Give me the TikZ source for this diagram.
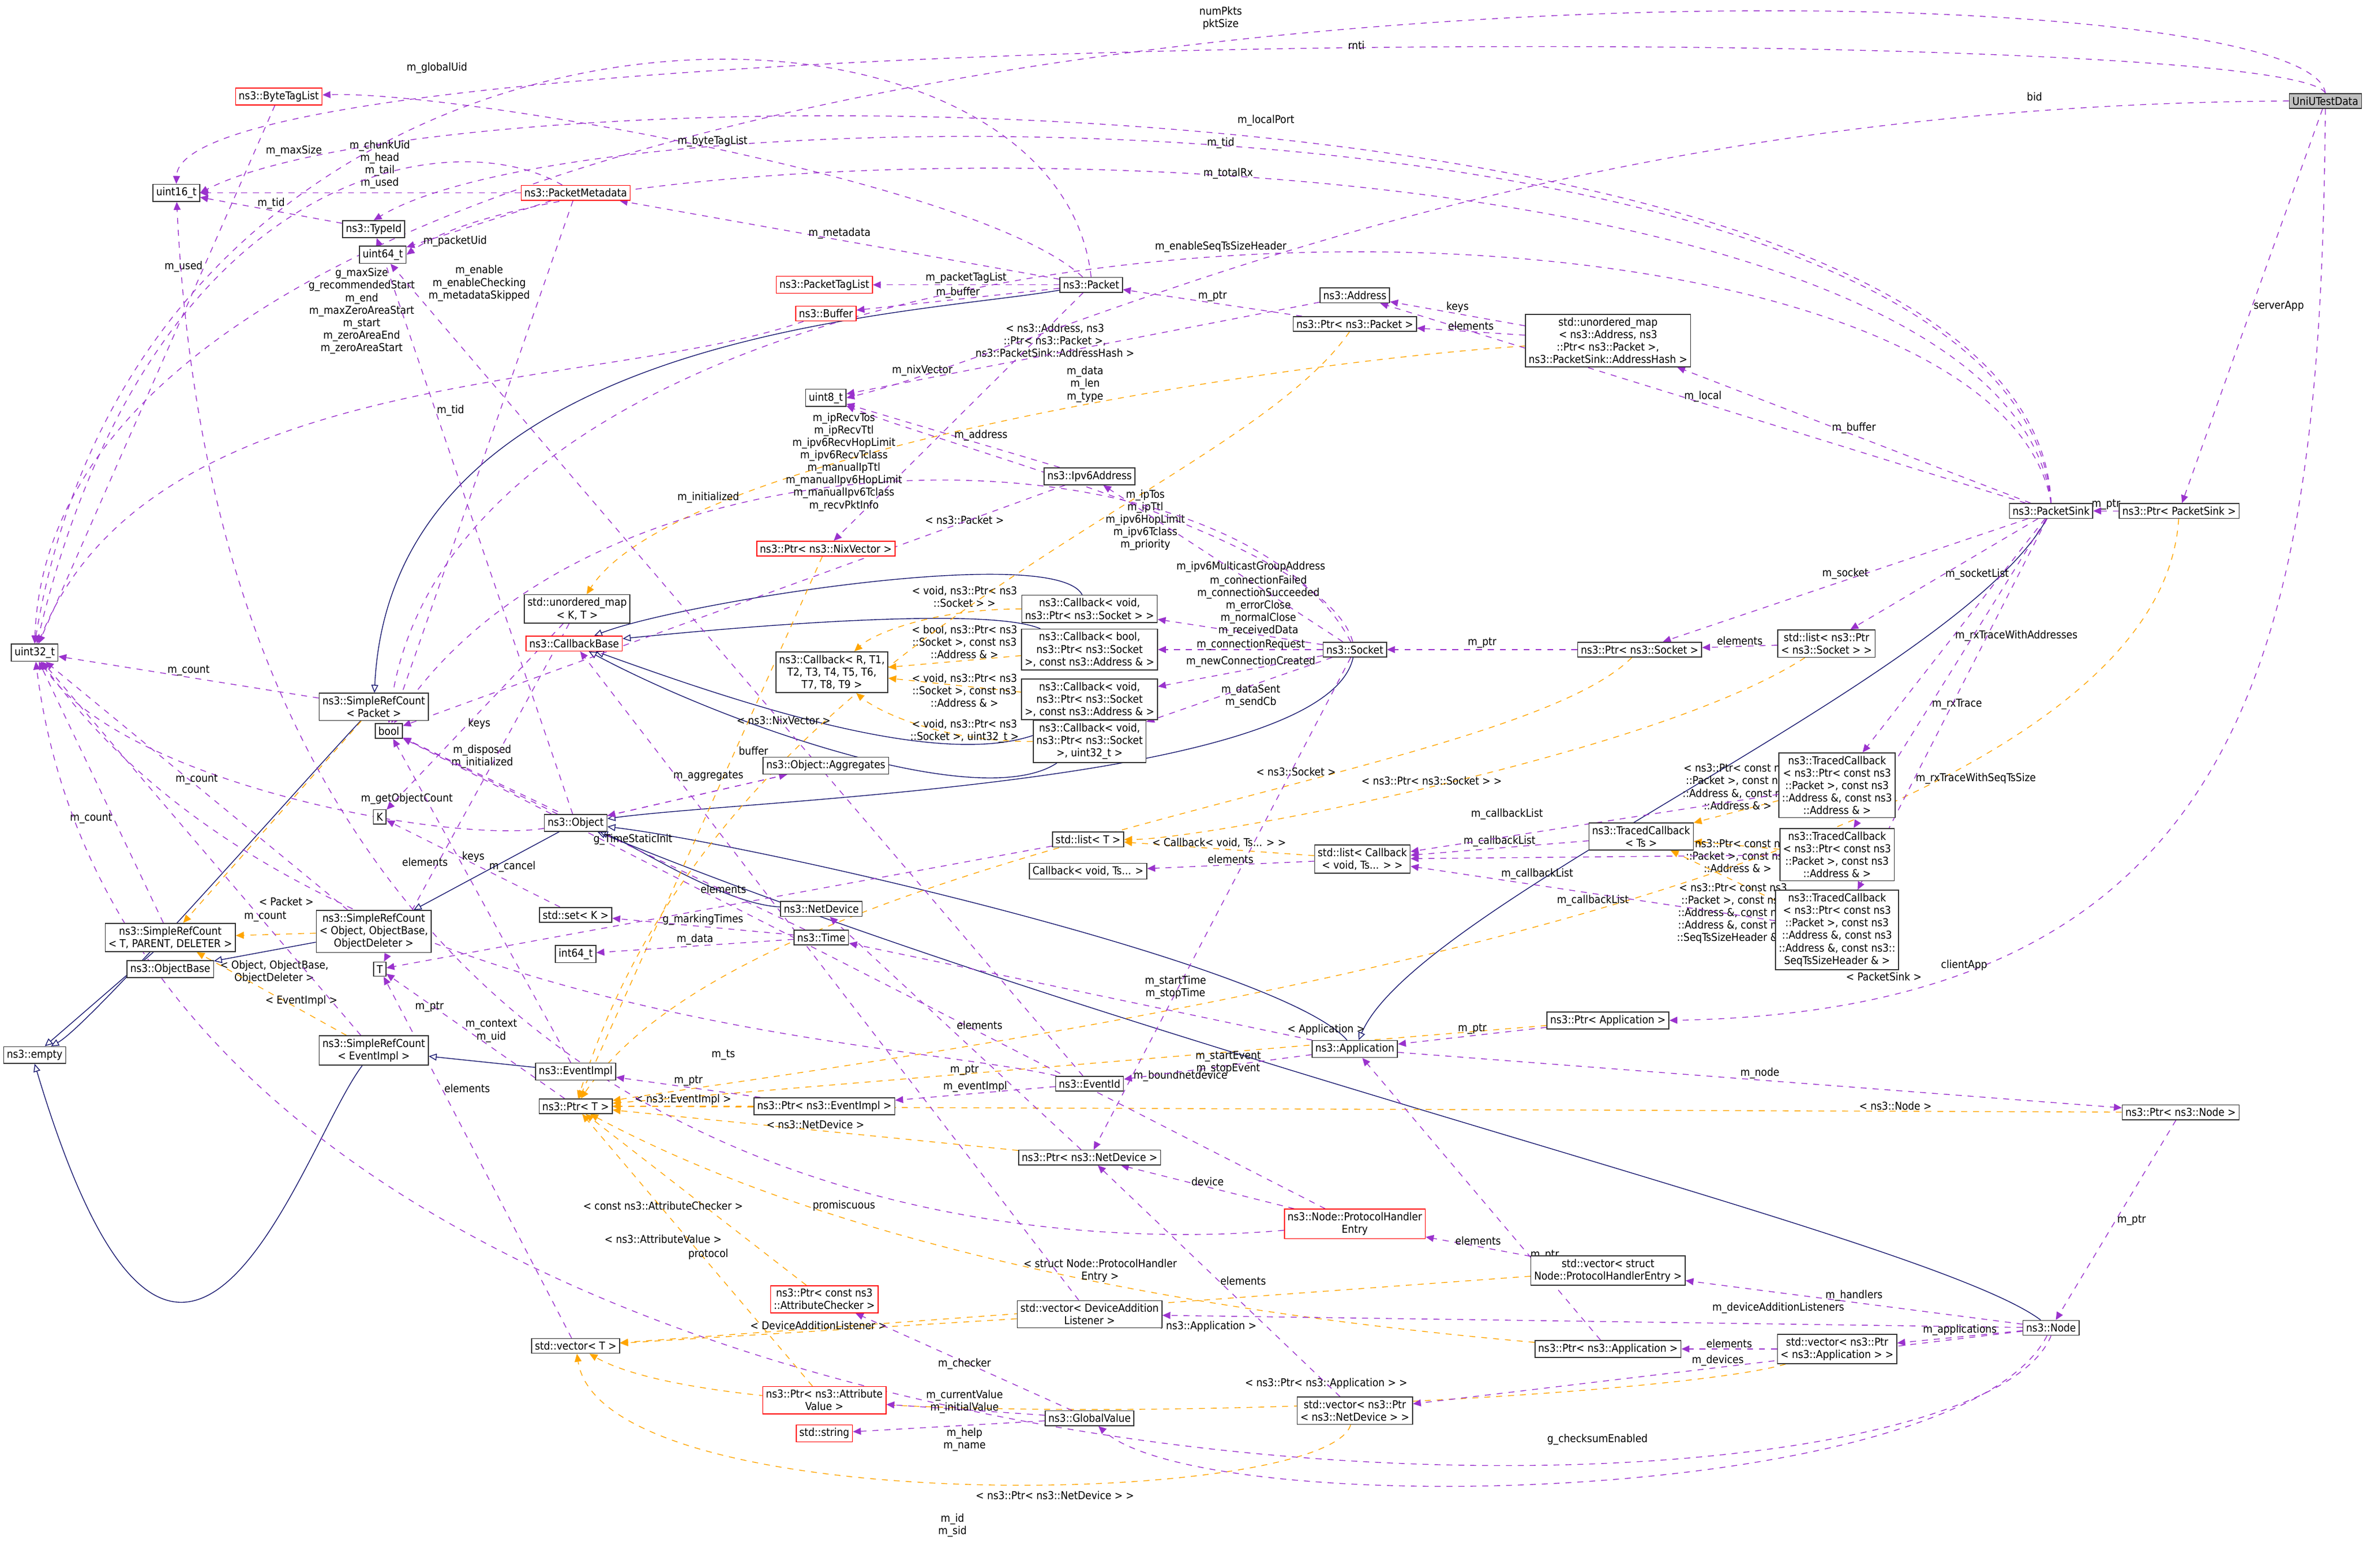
\documentclass[tikz,border=0pt]{standalone}
\usepackage{fontspec}
\setmainfont{DejaVu Sans Condensed}
\usetikzlibrary{arrows.meta}
\definecolor{pu}{HTML}{9A32CD}
\definecolor{or}{HTML}{FFA500}
\definecolor{mb}{HTML}{191970}
\pgfdeclarelayer{bg}
\pgfsetlayers{bg,main}
\tikzset{
  fnt/.style={font=\fontsize{5.5}{6.3}\selectfont},
  box/.style={fnt,draw=black!80,fill=white,inner sep=1.6pt,align=center,line width=0.45pt},
  rbox/.style={box,draw=red},
  use/.style={dashed,pu,line width=0.4pt,-{Triangle[length=4pt,width=3.5pt]}},
  tmpl/.style={dashed,or,line width=0.4pt,-{Triangle[length=4pt,width=3.5pt]}},
  inh/.style={mb,line width=0.4pt,-{Triangle[open,length=4pt,width=3.5pt]}},
  lbl/.style={fnt,text=black,align=center,inner sep=0.5pt}
}
\begin{document}
\begin{tikzpicture}[x=0.0267cm,y=-0.0267cm]
\useasboundingbox (0,0) rectangle (1568,1040);
% nodes
\node[box,fill=black!25] (uni) at (1543,67) {UniUTestData};
\node[box] (psink) at (1361,339) {ns3::PacketSink};
\node[box] (ppsink) at (1446,339) {ns3::Ptr< PacketSink >};
\node[box] (packet) at (724,189) {ns3::Packet};
\node[rbox] (btl) at (185,64) {ns3::ByteTagList};
\node[box] (u16) at (117,128) {uint16\_t};
\node[rbox] (pmeta) at (382,128) {ns3::PacketMetadata};
\node[box] (typeid) at (248,152) {ns3::TypeId};
\node[box] (u64) at (254,169) {uint64\_t};
\node[rbox] (ptl) at (547,189) {ns3::PacketTagList};
\node[rbox] (buffer) at (548,208) {ns3::Buffer};
\node[box] (addr) at (899,196) {ns3::Address};
\node[box] (ppacket) at (899,215) {ns3::Ptr< ns3::Packet >};
\node[box] (umap) at (1067,226) {std::unordered\_map\\< ns3::Address, ns3\\::Ptr< ns3::Packet >,\\ ns3::PacketSink::AddressHash >};
\node[box] (u8) at (548,264) {uint8\_t};
\node[box] (ipv6) at (723,316) {ns3::Ipv6Address};
\node[rbox] (pnix) at (548,364) {ns3::Ptr< ns3::NixVector >};
\node[box] (umapkt) at (383,404) {std::unordered\_map\\< K, T >};
\node[rbox] (cbb) at (381,427) {ns3::CallbackBase};
\node[box] (cb1) at (723,404) {ns3::Callback< void,\\ ns3::Ptr< ns3::Socket > >};
\node[box] (cb2) at (723,431) {ns3::Callback< bool,\\ ns3::Ptr< ns3::Socket\\ >, const ns3::Address \& >};
\node[box] (cbR) at (552,446) {ns3::Callback< R, T1,\\ T2, T3, T4, T5, T6,\\ T7, T8, T9 >};
\node[box] (cb3) at (723,464) {ns3::Callback< void,\\ ns3::Ptr< ns3::Socket\\ >, const ns3::Address \& >};
\node[box] (cb4) at (723,492) {ns3::Callback< void,\\ ns3::Ptr< ns3::Socket\\ >, uint32\_t >};
\node[box] (socket) at (899,431) {ns3::Socket};
\node[box] (psock) at (1088,431) {ns3::Ptr< ns3::Socket >};
\node[box] (lsock) at (1212,427) {std::list< ns3::Ptr\\< ns3::Socket > >};
\node[box] (bool) at (258,485) {bool};
\node[box] (aggr) at (548,508) {ns3::Object::Aggregates};
\node[box] (srcp) at (248,469) {ns3::SimpleRefCount\\< Packet >};
\node[box] (u32) at (23,433) {uint32\_t};
\node[box] (object) at (382,546) {ns3::Object};
\node[box] (K) at (252,542) {K};
\node[box] (listT) at (722,557) {std::list< T >};
\node[box] (cbv) at (722,578) {Callback< void, Ts... >};
\node[box] (lcb) at (904,570) {std::list< Callback\\< void, Ts... > >};
\node[box] (tcts) at (1089,555) {ns3::TracedCallback\\< Ts >};
\node[box] (tc1) at (1219,521) {ns3::TracedCallback\\< ns3::Ptr< const ns3\\::Packet >, const ns3\\::Address \&, const ns3\\::Address \& >};
\node[box] (tc2) at (1219,567) {ns3::TracedCallback\\< ns3::Ptr< const ns3\\::Packet >, const ns3\\::Address \& >};
\node[box] (tc3) at (1219,617) {ns3::TracedCallback\\< ns3::Ptr< const ns3\\::Packet >, const ns3\\::Address \&, const ns3\\::Address \&, const ns3::\\SeqTsSizeHeader \& >};
\node[box] (setK) at (382,607) {std::set< K >};
\node[box] (i64) at (382,633) {int64\_t};
\node[box] (netdev) at (545,603) {ns3::NetDevice};
\node[box] (time) at (545,622) {ns3::Time};
\node[box] (srcobj) at (248,618) {ns3::SimpleRefCount\\< Object, ObjectBase,\\ ObjectDeleter >};
\node[box] (srctpl) at (113,622) {ns3::SimpleRefCount\\< T, PARENT, DELETER >};
\node[box] (objbase) at (113,643) {ns3::ObjectBase};
\node[box] (T) at (252,643) {T};
\node[box] (empty) at (23,700) {ns3::empty};
\node[box] (srcev) at (248,697) {ns3::SimpleRefCount\\< EventImpl >};
\node[box] (evimpl) at (382,711) {ns3::EventImpl};
\node[box] (ptrT) at (382,734) {ns3::Ptr< T >};
\node[box] (pev) at (547,734) {ns3::Ptr< ns3::EventImpl >};
\node[box] (eventid) at (723,719) {ns3::EventId};
\node[box] (pnd) at (723,768) {ns3::Ptr< ns3::NetDevice >};
\node[box] (app) at (899,696) {ns3::Application};
\node[box] (papp) at (1067,677) {ns3::Ptr< Application >};
\node[box] (pnode) at (1447,738) {ns3::Ptr< ns3::Node >};
\node[rbox] (phe) at (899,812) {ns3::Node::ProtocolHandler\\Entry};
\node[box] (vphe) at (1067,843) {std::vector< struct\\ Node::ProtocolHandlerEntry >};
\node[box] (node) at (1361,881) {ns3::Node};
\node[box] (vdal) at (723,872) {std::vector< DeviceAddition\\Listener >};
\node[rbox] (pac) at (547,862) {ns3::Ptr< const ns3\\::AttributeChecker >};
\node[box] (vecT) at (382,893) {std::vector< T >};
\node[box] (pnsapp) at (1067,895) {ns3::Ptr< ns3::Application >};
\node[box] (vpapp) at (1219,895) {std::vector< ns3::Ptr\\< ns3::Application > >};
\node[rbox] (pav) at (547,929) {ns3::Ptr< ns3::Attribute\\Value >};
\node[box] (gv) at (723,941) {ns3::GlobalValue};
\node[box] (vpnd) at (899,936) {std::vector< ns3::Ptr\\< ns3::NetDevice > >};
\node[rbox] (str) at (547,951) {std::string};

\begin{pgfonlayer}{bg}
% inheritance
\draw[inh] (packet) .. controls (600,210) and (260,220) .. (srcp);
\draw[inh] (srcp) .. controls (200,520) and (60,680) .. (empty);
\draw[inh] (srctpl) -- (empty);
\draw[inh] (srcev) .. controls (200,760) and (120,1030) .. (empty.south);
\draw[inh] (srcobj) -- (objbase);
\draw[inh] (object) -- (srcobj);
\draw[inh] (socket) .. controls (880,520) and (500,530) .. (object);
\draw[inh] (netdev) .. controls (480,600) and (420,560) .. (object);
\draw[inh] (app) .. controls (850,640) and (500,560) .. (object);
\draw[inh] (node) .. controls (1280,820) and (760,700) .. (object);
\draw[inh] (psink) .. controls (1300,450) and (940,600) .. (app);
\draw[inh] (evimpl) -- (srcev);
\draw[inh] (cb1) .. controls (700,360) and (450,400) .. (cbb);
\draw[inh] (cb2) .. controls (650,400) and (450,420) .. (cbb);
\draw[inh] (cb3) .. controls (650,520) and (500,470) .. (cbb);
\draw[inh] (cb4) .. controls (650,540) and (480,480) .. (cbb);
% template instances
\draw[tmpl] (umap) .. controls (850,240) and (450,300) .. (umapkt) node[lbl,at={(700,226)}]{< ns3::Address, ns3\\::Ptr< ns3::Packet >,\\ ns3::PacketSink::AddressHash >};
\draw[tmpl] (lsock) .. controls (1100,500) and (800,557) .. (listT) node[lbl,at={(950,518)}]{< ns3::Ptr< ns3::Socket > >};
\draw[tmpl] (lcb) -- (listT) node[lbl,midway,above]{< Callback< void, Ts... > >};
\draw[tmpl] (cb1) .. controls (620,404) and (580,420) .. (cbR) node[lbl,at={(640,396)}]{< void, ns3::Ptr< ns3\\::Socket > >};
\draw[tmpl] (cb2) -- (cbR) node[lbl,at={(640,426)}]{< bool, ns3::Ptr< ns3\\::Socket >, const ns3\\::Address \& >};
\draw[tmpl] (cb3) -- (cbR) node[lbl,at={(640,458)}]{< void, ns3::Ptr< ns3\\::Socket >, const ns3\\::Address \& >};
\draw[tmpl] (cb4) .. controls (620,492) and (580,470) .. (cbR) node[lbl,at={(640,485)}]{< void, ns3::Ptr< ns3\\::Socket >, uint32\_t >};
\draw[tmpl] (tc1) -- (tcts) node[lbl,at={(1153,522)}]{< ns3::Ptr< const ns3\\::Packet >, const ns3\\::Address \&, const ns3\\::Address \& >};
\draw[tmpl] (tc2) -- (tcts) node[lbl,at={(1153,568)}]{< ns3::Ptr< const ns3\\::Packet >, const ns3\\::Address \& >};
\draw[tmpl] (tc3) -- (tcts) node[lbl,at={(1150,606)}]{< ns3::Ptr< const ns3\\::Packet >, const ns3\\::Address \&, const ns3\\::Address \&, const ns3\\::SeqTsSizeHeader \& >};
\draw[tmpl] (srcp) -- (srctpl) node[lbl,at={(190,598)}]{< Packet >};
\draw[tmpl] (srcobj) -- (srctpl) node[lbl,at={(182,645)}]{< Object, ObjectBase,\\ ObjectDeleter >};
\draw[tmpl] (srcev) -- (srctpl) node[lbl,at={(200,664)}]{< EventImpl >};
\draw[tmpl] (ppsink) .. controls (1430,600) and (600,700) .. (ptrT) node[lbl,at={(1250,648)}]{< PacketSink >};
\draw[tmpl] (papp) -- (ptrT) node[lbl,at={(880,683)}]{< Application >};
\draw[tmpl] (pnsapp) .. controls (900,880) and (600,850) .. (ptrT) node[lbl,at={(800,880)}]{< ns3::Application >};
\draw[tmpl] (pnode) -- (ptrT) node[lbl,pos=.15,above]{< ns3::Node >};
\draw[tmpl] (pnd) -- (ptrT) node[lbl,midway,above]{< ns3::NetDevice >};
\draw[tmpl] (pev) -- (ptrT) node[lbl,midway,above]{< ns3::EventImpl >};
\draw[tmpl] (pac) -- (ptrT) node[lbl,at={(440,800)}]{< const ns3::AttributeChecker >};
\draw[tmpl] (pav) -- (ptrT) node[lbl,at={(440,822)}]{< ns3::AttributeValue >};
\draw[tmpl] (psock) .. controls (1000,520) and (500,560) .. (ptrT) node[lbl,at={(860,512)}]{< ns3::Socket >};
\draw[tmpl] (ppacket) .. controls (820,330) and (480,420) .. (ptrT) node[lbl,at={(640,345)}]{< ns3::Packet >};
\draw[tmpl] (pnix) -- (ptrT) node[lbl,at={(520,478)}]{< ns3::NixVector >};
\draw[tmpl] (vphe) -- (vecT) node[lbl,at={(730,843)}]{< struct Node::ProtocolHandler\\Entry >};
\draw[tmpl] (vdal) -- (vecT) node[lbl,midway,above]{< DeviceAdditionListener >};
\draw[tmpl] (vpapp) .. controls (1100,930) and (500,960) .. (vecT) node[lbl,at={(880,918)}]{< ns3::Ptr< ns3::Application > >};
\draw[tmpl] (vpnd) .. controls (880,1000) and (400,1010) .. (vecT) node[lbl,at={(700,992)}]{< ns3::Ptr< ns3::NetDevice > >};
% usage
\draw[use] (uni.north) .. controls (1530,-40) and (40,-40) .. (u32.north) node[lbl,at={(810,12)}]{numPkts\\pktSize};
\draw[use] (uni.north) .. controls (1520,14) and (120,14) .. (u16.north) node[lbl,at={(900,30)}]{rnti};
\draw[use] (uni.west) .. controls (1000,70) and (700,230) .. (u8.east) node[lbl,at={(1350,64)}]{bid};
\draw[use] (uni) -- (ppsink) node[lbl,midway,right]{serverApp};
\draw[use] (uni.south) .. controls (1540,420) and (1500,670) .. (papp.east) node[lbl,pos=.8,above]{clientApp};
\draw[use] (ppsink) -- (psink) node[lbl,midway,above]{m\_ptr};
\draw[use] (psink.north) .. controls (1350,41) and (300,41) .. (u16.east) node[lbl,at={(840,80)}]{m\_localPort};
\draw[use] (psink.north) .. controls (1340,54) and (400,54) .. (typeid.north) node[lbl,at={(810,95)}]{m\_tid};
\draw[use] (psink.north) .. controls (1330,76) and (400,76) .. (u64.east) node[lbl,at={(815,115)}]{m\_totalRx};
\draw[use] (psink.north) .. controls (1320,92) and (300,92) .. (bool.north) node[lbl,at={(810,164)}]{m\_enableSeqTsSizeHeader};
\draw[use] (psink) -- (addr) node[lbl,midway,above]{m\_local};
\draw[use] (psink) -- (umap) node[lbl,midway,above]{m\_buffer};
\draw[use] (psink) -- (psock) node[lbl,midway,above]{m\_socket};
\draw[use] (psink) -- (lsock) node[lbl,midway,right]{m\_socketList};
\draw[use] (psink) -- (tc1) node[lbl,midway,right]{m\_rxTraceWithAddresses};
\draw[use] (psink) -- (tc2) node[lbl,pos=.6,right]{m\_rxTrace};
\draw[use] (psink) -- (tc3) node[lbl,pos=.7,right]{m\_rxTraceWithSeqTsSize};
\draw[use] (packet) .. controls (650,120) and (300,60) .. (btl) node[lbl,pos=.5,above]{m\_byteTagList};
\draw[use] (packet) -- (pmeta) node[lbl,midway,above]{m\_metadata};
\draw[use] (packet) -- (ptl) node[lbl,midway,above]{m\_packetTagList};
\draw[use] (packet) -- (buffer) node[lbl,midway,above]{m\_buffer};
\draw[use] (packet) -- (pnix) node[lbl,at={(612,246)}]{m\_nixVector};
\draw[use] (packet.north) .. controls (700,-38) and (100,-38) .. (u32.north) node[lbl,at={(290,45)}]{m\_globalUid};
\draw[use] (btl) -- (u32) node[lbl,pos=.3,left]{m\_used};
\draw[use] (pmeta) -- (u16) node[lbl,anchor=south,at={(252,126)}]{m\_chunkUid\\m\_head\\m\_tail\\m\_used};
\draw[use] (pmeta) .. controls (300,80) and (100,110) .. (u32) node[lbl,at={(195,100)}]{m\_maxSize};
\draw[use] (pmeta) -- (u64) node[lbl,at={(302,160)}]{m\_packetUid};
\draw[use] (pmeta) -- (bool) node[lbl,at={(318,188)}]{m\_enable\\m\_enableChecking\\m\_metadataSkipped};
\draw[use] (buffer) .. controls (400,260) and (100,240) .. (u32) node[lbl,anchor=north,at={(240,177)}]{g\_maxSize\\g\_recommendedStart\\m\_end\\m\_maxZeroAreaStart\\m\_start\\m\_zeroAreaEnd\\m\_zeroAreaStart};
\draw[use] (typeid) -- (u16) node[lbl,midway,above]{m\_tid};
\draw[use] (ppacket) -- (packet) node[lbl,midway,above]{m\_ptr};
\draw[use] (umap) -- (addr) node[lbl,midway,above]{keys};
\draw[use] (umap) -- (ppacket) node[lbl,midway,above]{elements};
\draw[use] (addr) -- (u8) node[lbl,at={(720,255)}]{m\_data\\m\_len\\m\_type};
\draw[use] (ipv6) -- (u8) node[lbl,midway,right]{m\_address};
\draw[use] (ipv6) -- (bool) node[lbl,at={(470,330)}]{m\_initialized};
\draw[use] (socket) .. controls (880,360) and (640,300) .. (u8) node[lbl,at={(760,345)}]{m\_ipTos\\m\_ipTtl\\m\_ipv6HopLimit\\m\_ipv6Tclass\\m\_priority};
\draw[use] (socket) .. controls (820,280) and (400,270) .. (bool) node[lbl,anchor=north,at={(560,273)}]{m\_ipRecvTos\\m\_ipRecvTtl\\m\_ipv6RecvHopLimit\\m\_ipv6RecvTclass\\m\_manualIpTtl\\m\_manualIpv6HopLimit\\m\_manualIpv6Tclass\\m\_recvPktInfo};
\draw[use] (socket) -- (ipv6) node[lbl,at={(830,376)}]{m\_ipv6MulticastGroupAddress};
\draw[use] (socket) -- (cb1) node[lbl,at={(835,402)}]{m\_connectionFailed\\m\_connectionSucceeded\\m\_errorClose\\m\_normalClose\\m\_receivedData};
\draw[use] (socket) -- (cb2) node[lbl,at={(830,428)}]{m\_connectionRequest};
\draw[use] (socket) -- (cb3) node[lbl,at={(830,439)}]{m\_newConnectionCreated};
\draw[use] (socket) -- (cb4) node[lbl,at={(830,462)}]{m\_dataSent\\m\_sendCb};
\draw[use] (socket) -- (pnd) node[lbl,pos=.85,right]{m\_boundnetdevice};
\draw[use] (psock) -- (socket) node[lbl,midway,above]{m\_ptr};
\draw[use] (lsock) -- (psock) node[lbl,midway,above]{elements};
\draw[use] (object) -- (typeid) node[lbl,pos=.7,right]{m\_tid};
\draw[use] (object) -- (bool) node[lbl,at={(320,502)}]{m\_disposed\\m\_initialized};
\draw[use] (object) .. controls (300,560) and (80,520) .. (u32) node[lbl,at={(270,530)}]{m\_getObjectCount};
\draw[use] (object) -- (aggr) node[lbl,at={(470,515)}]{m\_aggregates};
\draw[use] (aggr) -- (object) node[lbl,at={(500,498)}]{buffer};
\draw[use] (srcobj) -- (u32) node[lbl,midway,above]{m\_count};
\draw[use] (srctpl) -- (u32) node[lbl,pos=.4,left]{m\_count};
\draw[use] (srcp) -- (u32) node[lbl,midway,above]{m\_count};
\draw[use] (srcev) -- (u32) node[lbl,pos=.3,above]{m\_count};
\draw[use] (ptrT) -- (T) node[lbl,at={(285,668)}]{m\_ptr};
\draw[use] (umapkt) -- (K) node[lbl,at={(318,480)}]{keys};
\draw[use] (umapkt) -- (T) node[lbl,at={(282,572)}]{elements};
\draw[use] (setK) -- (K) node[lbl,midway,above]{keys};
\draw[use] (listT) -- (T) node[lbl,at={(480,590)}]{elements};
\draw[use] (vecT) -- (T) node[lbl,at={(310,722)}]{elements};
\draw[use] (tcts) -- (lcb) node[lbl,midway,above]{m\_callbackList};
\draw[use] (tc1) -- (lcb) node[lbl,at={(1000,540)}]{m\_callbackList};
\draw[use] (tc2) -- (lcb) node[lbl,at={(1020,580)}]{m\_callbackList};
\draw[use] (tc3) -- (lcb) node[lbl,midway,below]{m\_callbackList};
\draw[use] (lcb) -- (cbv) node[lbl,midway,above]{elements};
\draw[use] (time) -- (i64) node[lbl,midway,above]{m\_data};
\draw[use] (time) -- (setK) node[lbl,midway,above]{g\_markingTimes};
\draw[use] (time) -- (bool) node[lbl,at={(420,557)}]{g\_TimeStaticInit};
\draw[use] (app) -- (time) node[lbl,at={(780,655)}]{m\_startTime\\m\_stopTime};
\draw[use] (app) -- (eventid) node[lbl,at={(815,705)}]{m\_startEvent\\m\_stopEvent};
\draw[use] (app) -- (pnode) node[lbl,midway,above]{m\_node};
\draw[use] (papp) -- (app) node[lbl,midway,above]{m\_ptr};
\draw[use] (pnsapp) -- (app) node[lbl,pos=.3,right]{m\_ptr};
\draw[use] (eventid) -- (pev) node[lbl,midway,above]{m\_eventImpl};
\draw[use] (eventid) .. controls (600,690) and (200,680) .. (u32) node[lbl,at={(326,684)}]{m\_context\\m\_uid};
\draw[use] (eventid) -- (u64) node[lbl,at={(480,700)}]{m\_ts};
\draw[use] (pev) -- (evimpl) node[lbl,midway,above]{m\_ptr};
\draw[use] (evimpl) -- (bool) node[lbl,at={(340,575)}]{m\_cancel};
\draw[use] (pnd) -- (netdev) node[lbl,at={(640,710)}]{m\_ptr};
\draw[use] (phe) -- (pnd) node[lbl,midway,above]{device};
\draw[use] (phe) -- (bool) node[lbl,at={(560,800)}]{promiscuous};
\draw[use] (phe) .. controls (700,830) and (150,820) .. (u16) node[lbl,at={(470,832)}]{protocol};
\draw[use] (vphe) -- (phe) node[lbl,midway,above]{elements};
\draw[use] (pnode) -- (node) node[lbl,midway,right]{m\_ptr};
\draw[use] (node) -- (vphe) node[lbl,midway,above]{m\_handlers};
\draw[use] (node) -- (vdal) node[lbl,at={(1180,868)}]{m\_deviceAdditionListeners};
\draw[use] (node) -- (vpapp) node[lbl,midway,above]{m\_applications};
\draw[use] (node) -- (vpnd) node[lbl,midway,above]{m\_devices};
\draw[use] (node.south) .. controls (1300,1040) and (100,1040) .. (u32) node[lbl,at={(632,1012)}]{m\_id\\m\_sid};
\draw[use] (node) .. controls (1300,1000) and (800,1010) .. (gv) node[lbl,at={(1060,955)}]{g\_checksumEnabled};
\draw[use] (vpapp) -- (pnsapp) node[lbl,midway,above]{elements};
\draw[use] (vpnd) -- (pnd) node[lbl,midway,right]{elements};
\draw[use] (vdal) -- (cbb) node[lbl,at={(650,680)}]{elements};
\draw[use] (gv) -- (pac) node[lbl,at={(640,905)}]{m\_checker};
\draw[use] (gv) -- (pav) node[lbl,at={(640,930)}]{m\_currentValue\\m\_initialValue};
\draw[use] (gv) -- (str) node[lbl,at={(640,955)}]{m\_help\\m\_name};
\end{pgfonlayer}
\end{tikzpicture}
\end{document}
